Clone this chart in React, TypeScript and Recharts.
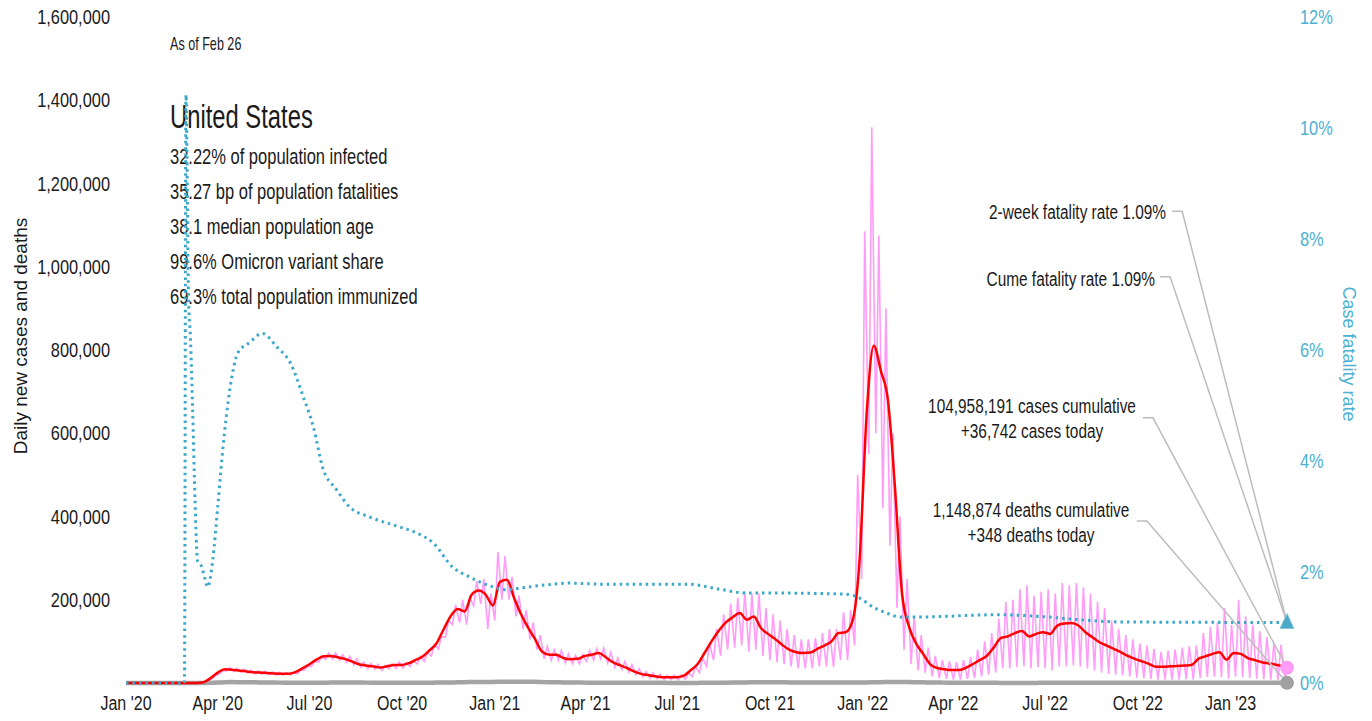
import React from 'react';
import { LineChart, Line, XAxis, YAxis, ReferenceDot } from 'recharts';

// Daily new COVID cases/deaths, United States, with case fatality rate

const FONT = "'Liberation Sans', Arial, sans-serif";
const W = 1372;
const H = 721;
const INK = '#1a1a1a';
const PINK = '#ff9cf7';
const RED = '#ff0000';
const TEAL = '#3aa8c9';
const TEAL_TEXT = '#4cb1d2';
const GRAY = '#a4a4a4';
const LEADER = '#bdbdbd';

// x axis is days since Jan 1 2020; last reading Feb 26 2023
const LAST_DAY = 1152;
const quarterDays = [0, 91, 182, 274, 366, 456, 547, 639, 731, 821, 912, 1004, 1096];
const quarterLabels = ["Jan '20", "Apr '20", "Jul '20", "Oct '20", "Jan '21", "Apr '21", "Jul '21", "Oct '21", "Jan '22", "Apr '22", "Jul '22", "Oct '22", "Jan '23"];

const leftTicks = [200000, 400000, 600000, 800000, 1000000, 1200000, 1400000, 1600000];
const rightTicks = [0, 2, 4, 6, 8, 10, 12];

// weekly samples, week w starts on day 7*w, values in thousands
// daily cases: weekend trough and weekday peak of each week
const casesWeekLow = [
  0, 0, 0, 0, 0, 0, 0, 0, 0, 0,
  0.2, 2, 11, 22, 29, 28, 26, 24, 22, 21,
  20, 19, 19, 19, 22, 31, 40, 50, 57, 58,
  55, 50, 44, 38, 35, 33, 30, 34, 35, 36,
  40, 46, 52, 65, 82, 110, 140, 145, 140, 185,
  190, 130, 150, 200, 200, 160, 130, 105, 80, 58,
  55, 55, 48, 46, 46, 52, 55, 58, 48, 38,
  32, 26, 20, 15, 12, 10, 8, 8, 7, 9,
  15, 25, 40, 55, 65, 80, 85, 90, 75, 80,
  65, 55, 50, 45, 40, 35, 35, 35, 40, 40,
  38, 55, 55, 90, 250, 550, 600, 420, 330, 180,
  80, 45, 30, 25, 15, 12, 10, 8, 8, 10,
  12, 15, 20, 25, 35, 35, 38, 40, 35, 38,
  35, 30, 40, 40, 42, 40, 35, 30, 25, 22,
  20, 18, 15, 13, 11, 10, 8, 8, 8, 8,
  9, 8, 12, 14, 15, 14, 10, 15, 14, 12,
  10, 9, 8, 7, 6,
];
const casesWeekHigh = [
  0, 0, 0, 0, 0, 0, 0, 0, 0, 0,
  0.5, 5, 18, 30, 37, 35, 34, 31, 29, 28,
  27, 26, 25, 25, 30, 40, 52, 63, 72, 72,
  68, 64, 58, 50, 47, 45, 42, 46, 50, 49,
  54, 64, 73, 92, 112, 150, 188, 200, 205, 245,
  250, 215, 315, 305, 255, 210, 175, 145, 115, 88,
  80, 78, 70, 66, 68, 78, 82, 84, 74, 60,
  52, 44, 34, 27, 24, 21, 18, 19, 20, 25,
  40, 60, 95, 130, 165, 190, 205, 220, 215, 215,
  180, 165, 150, 130, 115, 105, 105, 108, 120, 130,
  130, 170, 175, 500, 1085, 1335, 1075, 900, 600, 400,
  250, 160, 115, 85, 65, 55, 52, 50, 55, 62,
  80, 100, 120, 155, 195, 200, 225, 235, 210, 220,
  225, 215, 240, 235, 240, 230, 215, 195, 180, 150,
  130, 115, 105, 95, 90, 82, 75, 78, 80, 85,
  88, 90, 120, 135, 145, 180, 140, 200, 160, 140,
  125, 110, 95, 92, 90,
];
// 7-day average of cases
const avgWeekly = [
  0, 0, 0, 0, 0, 0, 0, 0, 0, 0,
  0.1, 2, 12, 25, 33, 32, 30, 28, 26, 25,
  24, 23, 22, 22, 26, 35, 45, 56, 64, 65,
  62, 58, 52, 45, 42, 40, 37, 40, 43, 43,
  47, 55, 63, 78, 95, 128, 160, 178, 172, 212,
  222, 212, 186, 243, 248, 205, 165, 133, 105, 75,
  68, 68, 60, 57, 58, 65, 68, 72, 62, 50,
  43, 36, 28, 22, 19, 16, 14, 14, 14, 17,
  30, 45, 72, 100, 125, 145, 158, 168, 152, 160,
  132, 118, 106, 92, 80, 74, 72, 73, 82, 90,
  100, 120, 122, 150, 300, 650, 810, 750, 680, 470,
  215, 135, 95, 70, 45, 36, 33, 31, 31, 36,
  45, 55, 65, 85, 108, 112, 120, 125, 112, 118,
  122, 118, 138, 143, 144, 138, 122, 110, 98, 90,
  82, 74, 65, 58, 52, 46, 39, 39, 40, 41,
  42, 43, 58, 64, 70, 74, 56, 72, 70, 60,
  55, 50, 47, 44, 40,
];
// daily deaths
const deathsWeekly = [
  0, 0, 0, 0, 0, 0, 0, 0, 0, 0,
  0, 0.05, 0.3, 1.0, 1.9, 2.2, 2.0, 1.9, 1.8, 1.5,
  1.2, 1.0, 0.9, 0.8, 0.6, 0.6, 0.6, 0.7, 0.8, 1.0,
  1.1, 1.1, 1.0, 1.0, 0.9, 0.85, 0.8, 0.75, 0.75, 0.7,
  0.7, 0.7, 0.8, 0.85, 0.95, 1.1, 1.4, 1.6, 2.0, 2.3,
  2.6, 2.7, 2.5, 2.9, 3.3, 3.1, 3.1, 3.0, 2.8, 2.2,
  1.9, 1.8, 1.5, 1.1, 1.0, 0.9, 0.8, 0.75, 0.7, 0.7,
  0.65, 0.6, 0.55, 0.5, 0.45, 0.38, 0.33, 0.3, 0.28, 0.24,
  0.25, 0.3, 0.37, 0.5, 0.6, 0.8, 1.0, 1.3, 1.5, 1.9,
  2.0, 1.9, 1.8, 1.6, 1.5, 1.3, 1.2, 1.1, 1.1, 1.1,
  1.0, 1.3, 1.3, 1.3, 1.2, 1.5, 1.9, 2.1, 2.3, 2.6,
  2.5, 2.2, 1.9, 1.6, 1.3, 1.1, 0.9, 0.7, 0.6, 0.5,
  0.4, 0.35, 0.35, 0.33, 0.3, 0.3, 0.3, 0.3, 0.3, 0.3,
  0.33, 0.35, 0.38, 0.4, 0.42, 0.44, 0.45, 0.45, 0.45, 0.44,
  0.42, 0.4, 0.4, 0.4, 0.38, 0.36, 0.35, 0.35, 0.35, 0.34,
  0.33, 0.33, 0.33, 0.38, 0.4, 0.42, 0.45, 0.5, 0.52, 0.52,
  0.48, 0.43, 0.4, 0.36, 0.34,
];
const CASES_TODAY = 36742;
const AVG_LAST = 37000;
const DEATHS_TODAY = 348;

// case fatality rate (%), sampled where the curve turns
const cfrDays = [0, 58, 59.5, 62, 64, 66, 68.5, 71, 73, 75, 78, 81, 86, 91, 96, 103, 111, 123, 135, 150, 163, 176, 186, 195, 209, 222, 242, 272, 289, 305, 324, 341, 358, 378, 391, 418, 440, 473, 523, 557, 589, 616, 649, 715, 728, 741, 755, 768, 788, 864, 914, 946, 986, 1152];
const cfrValues = [0, 0, 10.6, 7.0, 6.2, 5.0, 3.3, 2.2, 2.15, 2.1, 1.9, 1.73, 2.2, 3.17, 4.2, 5.28, 5.95, 6.14, 6.3, 6.05, 5.77, 5.15, 4.61, 3.89, 3.48, 3.17, 2.99, 2.81, 2.7, 2.52, 2.09, 1.91, 1.77, 1.68, 1.71, 1.77, 1.8, 1.78, 1.78, 1.78, 1.69, 1.62, 1.62, 1.6, 1.53, 1.37, 1.26, 1.19, 1.19, 1.23, 1.19, 1.14, 1.1, 1.09];

const statLines = [
  '32.22% of population infected',
  '35.27 bp of population fatalities',
  '38.1 median population age',
  '99.6% Omicron variant share',
  '69.3% total population immunized',
];

const casesData = casesWeekLow
  .flatMap((lo, w) => [
    { day: w * 7 + 2, cases: lo * 1000 },
    { day: w * 7 + 5, cases: casesWeekHigh[w] * 1000 },
  ])
  .filter((p) => p.day < LAST_DAY)
  .concat([{ day: LAST_DAY, cases: CASES_TODAY }]);
const avgData = avgWeekly
  .map((v, w) => ({ day: w * 7, avg: v * 1000 }))
  .concat([{ day: LAST_DAY, avg: AVG_LAST }]);
const deathsData = deathsWeekly
  .map((v, w) => ({ day: w * 7, deaths: v * 1000 }))
  .concat([{ day: LAST_DAY, deaths: DEATHS_TODAY }]);
const cfrData = cfrDays.map((d, i) => ({ day: d, cfr: cfrValues[i] }));
const cfrLast = cfrValues[cfrValues.length - 1];

// leader lines: short stub next to the label, then down to the end marker
const leader2wk = [{ day: 1038, v: 8.5 }, { day: 1048, v: 8.5 }, { day: LAST_DAY, v: cfrLast }];
const leaderCume = [{ day: 1026, v: 7.32 }, { day: 1036, v: 7.32 }, { day: LAST_DAY, v: cfrLast }];
const leaderCases = [{ day: 1009, v: 637000 }, { day: 1019, v: 637000 }, { day: LAST_DAY, v: CASES_TODAY }];
const leaderDeaths = [{ day: 1003, v: 389000 }, { day: 1013, v: 389000 }, { day: LAST_DAY, v: DEATHS_TODAY }];

// condensed look: Liberation Sans squeezed horizontally
function NText({ x, y, size, sx = 0.76, anchor = 'start', fill = INK, rotate = 0, dy, children }: any) {
  return (
    <text
      transform={`translate(${x},${y}) rotate(${rotate}) scale(${sx},1)`}
      textAnchor={anchor}
      fontSize={size}
      fontFamily={FONT}
      fill={fill}
      dy={dy}
    >
      {children}
    </text>
  );
}

const LeftTick = (p: any) => (
  <NText x={p.x} y={p.y} size={20} sx={0.82} anchor="end" dy="0.36em">
    {p.payload.value.toLocaleString('en-US')}
  </NText>
);
const RightTick = (p: any) => (
  <NText x={p.x} y={p.y} size={20} sx={0.82} fill={TEAL_TEXT} dy="0.36em">
    {`${p.payload.value}%`}
  </NText>
);
const BottomTick = (p: any) => (
  <NText x={p.x} y={p.y} size={20} sx={0.8} anchor="middle" dy="0.71em">
    {quarterLabels[quarterDays.indexOf(p.payload.value)]}
  </NText>
);

function Triangle(props: any) {
  const { cx, cy } = props;
  return (
    <path
      d={`M${cx},${cy - 9} L${cx + 7},${cy + 6} L${cx - 7},${cy + 6} Z`}
      fill="#4aa9c6"
      stroke="#8cc9dc"
      strokeWidth={1}
    />
  );
}

function TextLayer() {
  return (
    <svg width={W} height={H} style={{ position: 'absolute', left: 0, top: 0 }}>
      <NText x={170} y={50} size={17.5} sx={0.72}>As of Feb 26</NText>
      <NText x={170} y={128} size={34} sx={0.7}>United States</NText>
      {statLines.map((s, i) => (
        <NText key={s} x={170} y={163.5 + i * 35.2} size={22} sx={0.75}>{s}</NText>
      ))}
      <NText x={27} y={336} size={19} sx={1} rotate={-90} anchor="middle">
        Daily new cases and deaths
      </NText>
      <NText x={1343} y={354} size={18} sx={1} rotate={90} anchor="middle" fill={TEAL_TEXT}>
        Case fatality rate
      </NText>
      <NText x={1166} y={219} size={20} sx={0.77} anchor="end">2-week fatality rate 1.09%</NText>
      <NText x={1155} y={286} size={20} sx={0.77} anchor="end">Cume fatality rate 1.09%</NText>
      <NText x={1032} y={413} size={20} sx={0.77} anchor="middle">104,958,191 cases cumulative</NText>
      <NText x={1032} y={438} size={20} sx={0.77} anchor="middle">+36,742 cases today</NText>
      <NText x={1031} y={517} size={20} sx={0.77} anchor="middle">1,148,874 deaths cumulative</NText>
      <NText x={1031} y={542} size={20} sx={0.77} anchor="middle">+348 deaths today</NText>
    </svg>
  );
}

export default function App() {
  return (
    <div style={{ position: 'absolute', left: 0, top: 0, width: W, height: H, background: '#fff' }}>
      <TextLayer />
      <div style={{ position: 'absolute', left: 0, top: 0 }}>
        <LineChart width={W} height={H} margin={{ top: 17, right: 0, bottom: 0, left: 0 }}>
          <XAxis
            type="number"
            dataKey="day"
            domain={[0, LAST_DAY]}
            ticks={quarterDays}
            tick={<BottomTick />}
            tickLine={false}
            axisLine={false}
            tickSize={0}
            tickMargin={13}
            height={38}
          />
          <YAxis
            yAxisId="left"
            domain={[0, 1600000]}
            ticks={leftTicks}
            tick={<LeftTick />}
            tickLine={false}
            axisLine={false}
            tickSize={0}
            tickMargin={16}
            width={126}
          />
          <YAxis
            yAxisId="right"
            orientation="right"
            domain={[0, 12]}
            ticks={rightTicks}
            tick={<RightTick />}
            tickLine={false}
            axisLine={false}
            tickSize={0}
            tickMargin={13}
            width={85}
          />
          <Line yAxisId="left" data={casesData} dataKey="cases" type="linear" stroke={PINK} strokeWidth={1.6} dot={false} isAnimationActive={false} />
          <Line yAxisId="left" data={deathsData} dataKey="deaths" type="monotone" stroke={GRAY} strokeWidth={4.5} dot={false} isAnimationActive={false} />
          <Line yAxisId="left" data={avgData} dataKey="avg" type="monotone" stroke={RED} strokeWidth={2.5} dot={false} isAnimationActive={false} />
          <Line yAxisId="right" data={cfrData} dataKey="cfr" type="monotone" stroke={TEAL} strokeWidth={3} strokeDasharray="2.5 4" dot={false} isAnimationActive={false} />
          <Line yAxisId="right" data={leader2wk} dataKey="v" type="linear" stroke={LEADER} strokeWidth={1.5} dot={false} isAnimationActive={false} />
          <Line yAxisId="right" data={leaderCume} dataKey="v" type="linear" stroke={LEADER} strokeWidth={1.5} dot={false} isAnimationActive={false} />
          <Line yAxisId="left" data={leaderCases} dataKey="v" type="linear" stroke={LEADER} strokeWidth={1.5} dot={false} isAnimationActive={false} />
          <Line yAxisId="left" data={leaderDeaths} dataKey="v" type="linear" stroke={LEADER} strokeWidth={1.5} dot={false} isAnimationActive={false} />
          <ReferenceDot yAxisId="left" x={LAST_DAY} y={CASES_TODAY} r={7} fill={PINK} stroke="none" ifOverflow="visible" />
          <ReferenceDot yAxisId="left" x={LAST_DAY} y={DEATHS_TODAY} r={7} fill="#a0a0a0" stroke="none" ifOverflow="visible" />
          <ReferenceDot yAxisId="right" x={LAST_DAY} y={cfrLast} r={7} ifOverflow="visible" shape={Triangle} />
        </LineChart>
      </div>
    </div>
  );
}
